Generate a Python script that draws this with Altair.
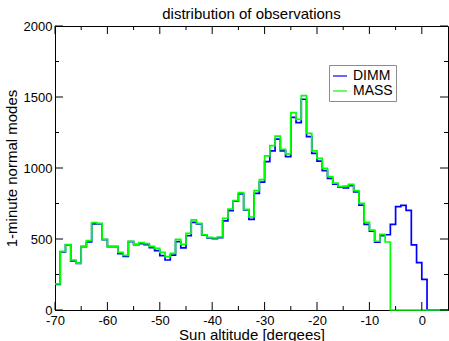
import altair as alt
import pandas as pd

# bin starts (1-degree bins)
dimm_start = list(range(-70, 1))  # -70 .. 0
dimm_counts = [180, 410, 458, 345, 328, 446, 479, 606, 606, 496,
               446, 446, 397, 378, 482, 460, 467, 460, 439, 418,
               383, 352, 387, 481, 437, 523, 617, 606, 528, 508,
               502, 510, 627, 700, 767, 817, 705, 638, 822, 901,
               1045, 1120, 1204, 1120, 1080, 1357, 1319, 1484, 1221, 1103,
               1049, 981, 927, 887, 866, 859, 876, 831, 739, 603,
               556, 477, 523, 530, 603, 728, 737, 702, 458, 333,
               216]
mass_start = list(range(-70, -6))  # -70 .. -7
mass_counts = [183, 413, 460, 352, 330, 448, 488, 615, 610, 498,
               448, 448, 406, 385, 484, 462, 474, 467, 448, 434,
               406, 376, 399, 498, 462, 540, 634, 610, 530, 512,
               507, 514, 646, 711, 770, 826, 709, 655, 840, 918,
               1085, 1157, 1225, 1131, 1099, 1390, 1343, 1509, 1244, 1120,
               1068, 998, 939, 894, 869, 873, 885, 840, 751, 617,
               563, 484, 533, 479]
x_end = 5

x_major = [-70, -60, -50, -40, -30, -20, -10, 0]
x_minor = [-65, -55, -45, -35, -25, -15, -5]
y_major = [0, 500, 1000, 1500, 2000]
y_minor = [250, 750, 1250, 1750]

rows = []
for name, starts, counts in [("DIMM", dimm_start, dimm_counts), ("MASS", mass_start, mass_counts)]:
    for s, c in zip(starts, counts):
        rows.append({"series": name, "v": s, "n": c})
    rows.append({"series": name, "v": starts[-1] + 1, "n": 0})
    rows.append({"series": name, "v": x_end, "n": 0})
df = pd.DataFrame(rows)

W, H = 393, 284
FONT = "Liberation Sans"
xscale = alt.Scale(domain=[-70, 5], nice=False, zero=False)
yscale = alt.Scale(domain=[0, 2000], nice=False)

xaxis = alt.Axis(title="Sun altitude [dergees]", values=x_major, ticks=False,
                 grid=False, labelPadding=4, titlePadding=0,
                 labelExpr="'' + datum.value",
                 labelFontSize=13, titleFontSize=15, labelFont=FONT, titleFont=FONT,
                 titleFontWeight="normal", labelColor="black", titleColor="black",
                 domainColor="black", labelFlush=False)
yaxis = alt.Axis(title="1-minute normal modes", values=y_major, ticks=False,
                 grid=False, labelPadding=3, titlePadding=4,
                 labelExpr="'' + datum.value",
                 labelFontSize=13, titleFontSize=15, labelFont=FONT, titleFont=FONT,
                 titleFontWeight="normal", labelColor="black", titleColor="black",
                 domainColor="black", labelFlush=False)

lines = alt.Chart(df).mark_line(interpolate="step-after", strokeWidth=1.7).encode(
    x=alt.X("v:Q", scale=xscale, axis=xaxis),
    y=alt.Y("n:Q", scale=yscale, axis=yaxis),
    color=alt.Color("series:N", title=None,
                    scale=alt.Scale(domain=["DIMM", "MASS"], range=["#0000ff", "#00ff00"]),
                    legend=alt.Legend(orient="none", legendX=274, legendY=39,
                                      symbolType="stroke", symbolSize=196, symbolStrokeWidth=1.2,
                                      labelFontSize=14, labelFont=FONT, labelColor="black",
                                      labelOffset=5, rowPadding=-3, padding=3,
                                      strokeColor="#8c8c8c", fillColor="white")),
    detail="series:N",
)

def xticks(vals, length):
    d = pd.DataFrame({"v": vals})
    bottom = alt.Chart(d).mark_rule(color="black", strokeWidth=1).encode(
        x=alt.X("v:Q", scale=xscale, axis=xaxis), y=alt.value(H), y2=alt.value(H - length))
    top = alt.Chart(d).mark_rule(color="black", strokeWidth=1).encode(
        x=alt.X("v:Q", scale=xscale, axis=xaxis), y=alt.value(0), y2=alt.value(length))
    return [bottom, top]

def yticks(vals, length):
    d = pd.DataFrame({"n": vals})
    left = alt.Chart(d).mark_rule(color="black", strokeWidth=1).encode(
        y=alt.Y("n:Q", scale=yscale, axis=yaxis), x=alt.value(0), x2=alt.value(length))
    right = alt.Chart(d).mark_rule(color="black", strokeWidth=1).encode(
        y=alt.Y("n:Q", scale=yscale, axis=yaxis), x=alt.value(W), x2=alt.value(W - length))
    return [left, right]

layers = [lines] + xticks(x_major, 8) + xticks(x_minor, 4) + yticks(y_major, 8) + yticks(y_minor, 4)

chart = alt.layer(*layers).properties(
    width=W, height=H,
    autosize=alt.AutoSizeParams(type="none"),
    padding={"left": 55, "top": 26, "right": 1, "bottom": 31},
    title=alt.Title("distribution of observations", fontSize=15, font=FONT,
                    fontWeight="normal", color="black", offset=-2, frame="group"),
).configure(background="white").configure_view(stroke="black", strokeWidth=1)

chart.save("out.html", embed_options={"renderer": "svg", "actions": False})
